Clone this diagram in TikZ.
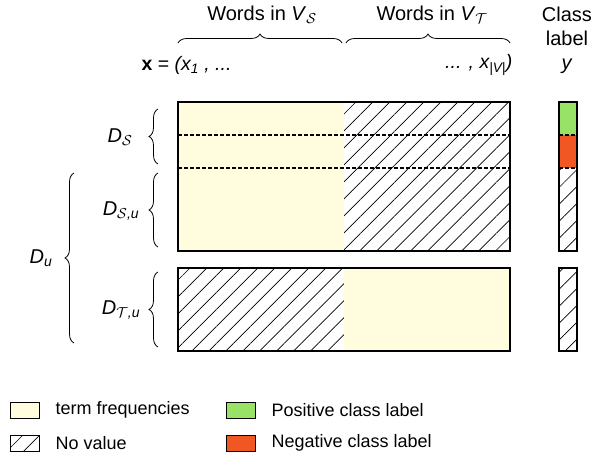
\documentclass[tikz,border=0pt]{standalone}
\usepackage{fontspec}
\setmainfont{Liberation Sans}
\usepackage{tikz}
\usetikzlibrary{decorations.pathreplacing,patterns.meta}
\definecolor{tfyellow}{RGB}{255,253,222}
\definecolor{posgreen}{RGB}{153,226,104}
\definecolor{negred}{RGB}{240,87,35}

\begin{document}
\begin{tikzpicture}[x=1pt, y=-1pt, font=\fontsize{20}{24}\selectfont,
  novalue/.style={pattern={Lines[angle=45,distance=12pt,line width=0.7pt]}},
  blk/.style={draw, line width=1.2pt},
  sep/.style={dashed, dash pattern=on 3.5pt off 2.5pt, line width=1.3pt},
  brc/.style={decorate, decoration={brace, amplitude=9pt}, line width=0.8pt},
  small/.style={font=\fontsize{18}{21}\selectfont},
  vec/.style={font=\fontsize{19.5}{23}\selectfont},
  lgbox/.style={draw, line width=0.8pt, minimum width=29pt, minimum height=16pt, inner sep=0pt}]
  \useasboundingbox (0,0) rectangle (603,458);
  % upper block: labelled source + unlabelled source
  \fill[tfyellow] (178,102) rectangle (344,251);
  \fill[novalue] (344,102) rectangle (510,251);
  \draw[sep] (178,135) -- (510,135);
  \draw[sep] (178,168) -- (510,168);
  \draw[blk] (178,102) rectangle (510,251);
  % lower block: unlabelled target
  \fill[novalue] (178,268) rectangle (344,351);
  \fill[tfyellow] (344,268) rectangle (510,351);
  \draw[blk] (178,268) rectangle (510,351);
  % class label column
  \fill[posgreen] (559,102) rectangle (577,135);
  \fill[negred] (559,135) rectangle (577,168);
  \fill[novalue] (559,168) rectangle (577,251);
  \draw[sep] (559,135) -- (577,135);
  \draw[sep] (559,168) -- (577,168);
  \draw[blk] (559,102) rectangle (577,251);
  \fill[novalue] (559,268) rectangle (577,351);
  \draw[blk] (559,268) rectangle (577,351);

  % top braces
  \coordinate (vs1) at (178,43);
  \coordinate (vs2) at (342,43);
  \coordinate (vt1) at (346,43);
  \coordinate (vt2) at (510,43);
  \draw[brc] (vs1) -- (vs2);
  \draw[brc] (vt1) -- (vt2);
  \node (wvs) at (262,15) {Words in \textit{V}$_{\mathcal{S}}$};
  \node (wvt) at (432,15) {Words in \textit{V}$_{\mathcal{T}}$};
  \node[align=center] (cls) at (567,40) {Class\\label\\\textit{y}};
  \node[vec, anchor=west] (xl) at (138,65) {\textbf{x} = \textit{(x\textsubscript{1} , ...}};
  \node[vec, anchor=east] (xr) at (516,65) {\textit{... , x\textsubscript{|V|})}};

  % left braces
  \coordinate (ds1) at (158,164);
  \coordinate (ds2) at (158,109);
  \coordinate (dsu1) at (158,247);
  \coordinate (dsu2) at (158,173);
  \coordinate (dtu1) at (158,347);
  \coordinate (dtu2) at (158,272);
  \coordinate (du1) at (74,343);
  \coordinate (du2) at (74,173);
  \draw[brc] (ds1) -- (ds2);
  \draw[brc] (dsu1) -- (dsu2);
  \draw[brc] (dtu1) -- (dtu2);
  \draw[brc] (du1) -- (du2);
  \node (lds) at (120,137) {\textit{D}\textsubscript{$\mathcal{S}$}};
  \node (ldsu) at (121,211) {\textit{D}\textsubscript{$\mathcal{S}$\textit{,u}}};
  \node (ldtu) at (121,310) {\textit{D}\textsubscript{$\mathcal{T}$\textit{,u}}};
  \node (ldu) at (41,258) {\textit{D}\textsubscript{\textit{u}}};

  % legend
  \node[lgbox, fill=tfyellow] (ktf) at (24.5,410) {};
  \node[lgbox, novalue] (knv) at (24.5,443) {};
  \node[lgbox, fill=posgreen] (kpos) at (240.5,410) {};
  \node[lgbox, fill=negred] (kneg) at (240.5,443) {};
  \node[small, anchor=west] (ttf) at (52,410) {term frequencies};
  \node[small, anchor=west] (tnv) at (52,443) {No value};
  \node[small, anchor=west] (tpos) at (268,410) {Positive class label};
  \node[small, anchor=west] (tneg) at (268,443) {Negative class label};
\end{tikzpicture}
\end{document}
